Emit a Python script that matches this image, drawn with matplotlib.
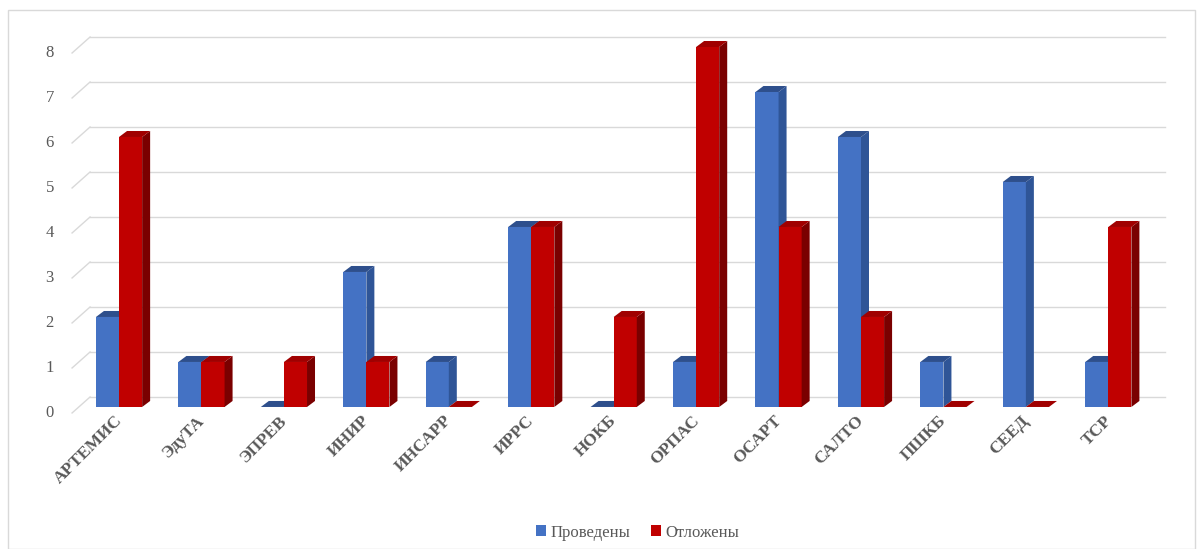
import numpy as np
import matplotlib.pyplot as plt
from matplotlib.patches import Polygon, Rectangle, Patch
from matplotlib.transforms import ScaledTranslation

categories = ["АРТЕМИС", "ЭдуТА", "ЭПРЕВ", "ИНИР", "ИНСАРР", "ИРРС", "НОКБ",
              "ОРПАС", "ОСАРТ", "САЛТО", "ПШКБ", "СЕЕД", "ТСР"]
held = [2, 1, 0, 3, 1, 4, 0, 1, 7, 6, 1, 5, 1]
postponed = [6, 1, 1, 1, 0, 4, 2, 8, 4, 2, 0, 0, 4]
series_names = ["Проведены", "Отложены"]
y_ticks = [0, 1, 2, 3, 4, 5, 6, 7, 8]

# front, side, top colours for each series
colors = [("#4472C4", "#2F5597", "#2E4F8C"),
          ("#C00000", "#7A0000", "#A00000")]

plt.rcParams['font.family'] = ['Liberation Serif', 'DejaVu Serif']

fig = plt.figure(figsize=(12.03, 5.49), dpi=100)
ax = fig.add_axes([0.0599, 0.2587, 0.8936, 0.6557])
ax.set_xlim(-0.57, 12.47)
ax.set_ylim(0, 8)
ax.axis('off')

# outer chart frame
fig.patches.append(Rectangle((0.007, 0.0), 0.986, 0.982, transform=fig.transFigure,
                             fill=False, edgecolor="#D9D9D9", lw=1))

dpi = fig.dpi
wall = ScaledTranslation(18 / dpi, 10 / dpi, fig.dpi_scale_trans)
floor_tr = ax.transData + ScaledTranslation(0, -6 / dpi, fig.dpi_scale_trans)
x0, x1 = ax.get_xlim()

# back wall gridlines and side-wall diagonals
for v in y_ticks:
    ax.plot([x0, x1], [v, v], color="#D9D9D9", lw=1, transform=ax.transData + wall,
            clip_on=False, zorder=0)
    p_front = floor_tr.transform((x0, v))
    p_back = (ax.transData + wall).transform((x0, v))
    fig.add_artist(plt.Line2D([p_front[0] / fig.bbox.width, p_back[0] / fig.bbox.width],
                              [p_front[1] / fig.bbox.height, p_back[1] / fig.bbox.height],
                              color="#D9D9D9", lw=1, transform=fig.transFigure))
    ax.text(x0 - 0.27, v, str(v), transform=floor_tr, ha='center', va='center',
            fontsize=12, color="#595959")

# 3D-looking columns
w = 0.28
dx, dy = 8, 6
x = np.arange(len(categories))
handles = []
for k, vals in enumerate([held, postponed]):
    front, side, top = colors[k]
    xs = x - w + k * w
    bars = ax.bar(xs, vals, width=w, align='edge', color=front, lw=0, zorder=3,
                  clip_on=False)
    for b in bars:
        (l, btm), (r, t) = ax.transData.transform([(b.get_x(), 0),
                                                    (b.get_x() + w, b.get_height())])
        side_pts = [(r, btm), (r + dx, btm + dy), (r + dx, t + dy), (r, t)]
        top_pts = [(l, t), (l + dx, t + dy), (r + dx, t + dy), (r, t)]
        ax.add_patch(Polygon(side_pts, closed=True, transform=None, facecolor=side,
                             lw=0, zorder=3, clip_on=False))
        ax.add_patch(Polygon(top_pts, closed=True, transform=None, facecolor=top,
                             lw=0, zorder=3, clip_on=False))
    handles.append(Patch(facecolor=front, label=series_names[k]))

# rotated category labels
for i, name in enumerate(categories):
    ax.text(i - 0.06, -0.12, name, rotation=45, rotation_mode='anchor', ha='right',
            va='top', fontsize=12.5, fontweight='bold', color="#595959")

fig.legend(handles=handles, loc='lower center', bbox_to_anchor=(0.53, -0.012), ncol=2,
           frameon=False, fontsize=12, handlelength=0.6, handleheight=0.6,
           handletextpad=0.3, columnspacing=1.2, labelcolor="#595959")

fig.savefig("out.png", dpi=100)
